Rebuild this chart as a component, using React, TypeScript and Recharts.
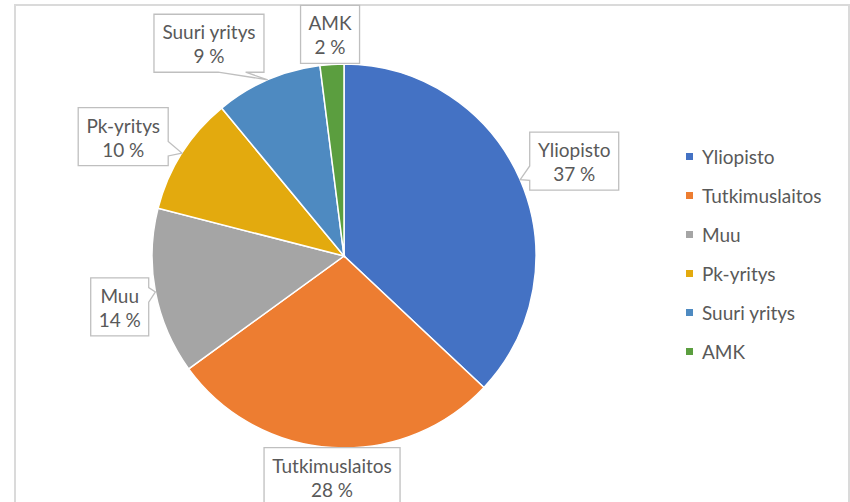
import { Cell, Pie, PieChart } from "recharts";

const categories = ["Yliopisto", "Tutkimuslaitos", "Muu", "Pk-yritys", "Suuri yritys", "AMK"];
const shares = [37, 28, 14, 10, 9, 2];
const colors = ["#4472C4", "#ED7D31", "#A5A5A5", "#E3AA0E", "#4E8AC1", "#5B9E3F"];

const data = categories.map((name, i) => ({ name, value: shares[i] }));

// callout placement, excel "best fit" style: distance from centre + small angle tweak
const calloutDist = [249, 221, 230, 251, 252, 222];
const calloutTurn = [-1, 0.5, 2, 4, 9, 0];

const FONT = "Lato, 'Open Sans', sans-serif";
const FS = 19;
const TEXT = "#595959";
const RAD = Math.PI / 180;

let ctx: CanvasRenderingContext2D | null = null;
function textWidth(s: string) {
  if (!ctx) ctx = document.createElement("canvas").getContext("2d");
  if (!ctx) return s.length * FS * 0.5;
  ctx.font = `${FS}px Lato`;
  return ctx.measureText(s).width;
}

function Callout(props: any) {
  const { cx, cy, midAngle, outerRadius, index, name, value } = props;
  const a = (midAngle + calloutTurn[index]) * RAD;
  const d = calloutDist[index];
  const lx = cx + d * Math.cos(a);
  const ly = cy - d * Math.sin(a);
  const tx = cx + outerRadius * Math.cos(midAngle * RAD);
  const ty = cy - outerRadius * Math.sin(midAngle * RAD);
  const pct = `${value} %`;
  const w = Math.round(Math.max(textWidth(name), textWidth(pct)) + 16);
  const h = 58;
  const x0 = lx - w / 2;
  const x1 = lx + w / 2;
  const y0 = ly - h / 2;
  const y1 = ly + h / 2;

  const outside = tx < x0 - 3 || tx > x1 + 3 || ty < y0 - 3 || ty > y1 + 3;
  const ndx = (tx - lx) / (w / 2);
  const ndy = (ty - ly) / (h / 2);
  const xb1 = x0 + (w * (ndx > 0 ? 7 : 2)) / 12;
  const xb2 = x0 + (w * (ndx > 0 ? 10 : 5)) / 12;
  const yb1 = y0 + (h * (ndy > 0 ? 7 : 2)) / 12;
  const yb2 = y0 + (h * (ndy > 0 ? 10 : 5)) / 12;
  const tip = `L${tx},${ty}`;
  let side = "";
  if (outside) {
    if (Math.abs(ndx) > Math.abs(ndy)) side = ndx > 0 ? "r" : "l";
    else side = ndy > 0 ? "b" : "t";
  }

  const path =
    `M${x0},${y0}` +
    (side === "t" ? `L${xb1},${y0}${tip}L${xb2},${y0}` : "") +
    `L${x1},${y0}` +
    (side === "r" ? `L${x1},${yb1}${tip}L${x1},${yb2}` : "") +
    `L${x1},${y1}` +
    (side === "b" ? `L${xb2},${y1}${tip}L${xb1},${y1}` : "") +
    `L${x0},${y1}` +
    (side === "l" ? `L${x0},${yb2}${tip}L${x0},${yb1}` : "") +
    "Z";

  return (
    <g>
      <path d={path} fill="#fff" stroke="#BFBFBF" strokeWidth={1.3} />
      <text x={lx} y={ly - 11.5} textAnchor="middle" dominantBaseline="central" fill={TEXT} fontSize={FS} fontFamily={FONT}>
        {name}
      </text>
      <text x={lx} y={ly + 12.5} textAnchor="middle" dominantBaseline="central" fill={TEXT} fontSize={FS} fontFamily={FONT}>
        {pct}
      </text>
    </g>
  );
}

function LegendList() {
  return (
    <div style={{ position: "absolute", left: 686, top: 137, fontFamily: FONT, fontSize: FS, color: TEXT }}>
      {categories.map((name, i) => (
        <div key={name} style={{ height: 39, display: "flex", alignItems: "center" }}>
          <span style={{ width: 7, height: 7, background: colors[i], marginRight: 9, display: "inline-block" }} />
          <span>{name}</span>
        </div>
      ))}
    </div>
  );
}

export default function App() {
  return (
    <div style={{ position: "absolute", left: 0, top: 0, width: 850, height: 502, overflow: "hidden", background: "#fff" }}>
      <div
        style={{
          position: "absolute",
          left: 14,
          top: 4,
          width: 832,
          height: 540,
          border: "2px solid #DADADA",
        }}
      />
      <div style={{ position: "absolute", left: 0, top: 0 }}>
        <PieChart width={850} height={502} margin={{ top: 0, right: 0, bottom: 0, left: 0 }}>
          <Pie
            data={data}
            dataKey="value"
            nameKey="name"
            cx={344}
            cy={256}
            outerRadius={192}
            startAngle={90}
            endAngle={-270}
            stroke="#fff"
            strokeWidth={1.5}
            label={Callout}
            labelLine={false}
            isAnimationActive={false}
          >
            {data.map((d, i) => (
              <Cell key={d.name} fill={colors[i]} />
            ))}
          </Pie>
        </PieChart>
      </div>
      <LegendList />
    </div>
  );
}
